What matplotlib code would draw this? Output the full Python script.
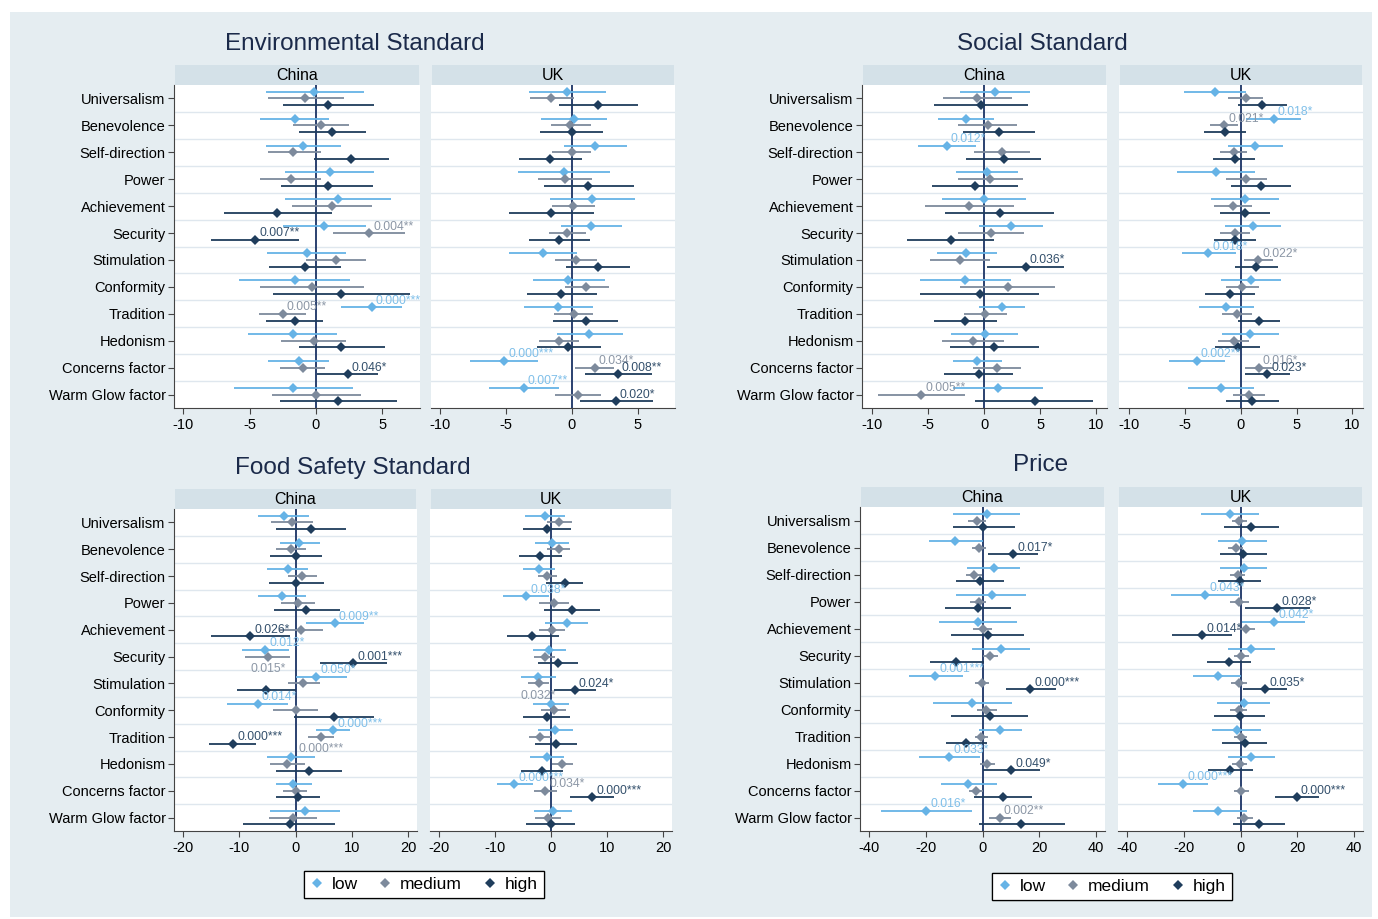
import numpy as np
import matplotlib
matplotlib.use("Agg")
import matplotlib.pyplot as plt
from matplotlib.patches import Rectangle
from matplotlib.lines import Line2D

plt.rcParams['font.family'] = ['Liberation Sans', 'DejaVu Sans']

CATEGORIES = ["Universalism", "Benevolence", "Self-direction", "Power", "Achievement",
              "Security", "Stimulation", "Conformity", "Tradition", "Hedonism",
              "Concerns factor", "Warm Glow factor"]
SERIES = ["low", "medium", "high"]
COUNTRIES = ["China", "UK"]

# (estimate, ci_low, ci_high) per category
ENV_CN_LOW = [(-0.13,-3.8,3.6),(-1.6,-4.2,1.0),(-1.0,-3.8,1.9),(1.05,-2.3,4.4),(1.7,-2.3,5.7),(0.6,-2.5,3.8),
              (-0.7,-3.7,2.3),(-1.6,-5.8,2.6),(4.2,1.9,6.5),(-1.75,-5.1,1.6),(-1.3,-3.6,1.0),(-1.7,-6.2,2.8)]
ENV_CN_MED = [(-0.8,-3.6,2.1),(0.4,-1.7,2.5),(-1.7,-3.6,0.35),(-1.9,-4.2,0.4),(1.2,-1.8,4.2),(4.0,1.3,6.7),
              (1.5,-0.75,3.8),(-0.3,-4.2,3.6),(-2.5,-4.3,-0.75),(-0.15,-2.6,2.3),(-1.0,-2.7,0.65),(0.0,-3.3,3.4)]
ENV_CN_HIGH = [(0.9,-2.5,4.4),(1.2,-1.3,3.8),(2.65,-0.15,5.5),(0.9,-2.6,4.3),(-2.9,-6.9,1.2),(-4.6,-7.9,-1.3),
               (-0.8,-3.5,1.9),(1.9,-3.2,7.1),(-1.6,-3.8,0.55),(1.9,-1.3,5.2),(2.4,0.05,4.7),(1.7,-2.7,6.1)]
ENV_UK_LOW = [(-0.33,-3.25,2.6),(0.2,-2.3,2.7),(1.8,-0.6,4.2),(-0.6,-4.1,2.9),(1.55,-1.65,4.8),(1.45,-0.8,3.8),
              (-2.2,-4.8,0.4),(-0.25,-2.95,2.55),(-1.05,-3.65,1.6),(1.3,-1.15,3.9),(-5.15,-7.7,-2.55),(-3.65,-6.3,-1.0)]
ENV_UK_MED = [(-1.55,-3.2,0.2),(-0.1,-1.6,1.45),(0.0,-1.5,1.45),(-0.5,-2.55,1.55),(0.1,-1.5,1.8),(-0.35,-1.75,1.05),
              (0.35,-1.25,1.95),(1.1,-0.55,2.8),(0.15,-1.35,1.65),(-1.0,-2.5,0.55),(1.75,0.25,3.25),(0.45,-1.25,2.2)]
ENV_UK_HIGH = [(2.0,-1.0,5.0),(0.0,-2.4,2.4),(-1.65,-4.0,0.8),(1.25,-2.1,4.7),(-1.6,-4.8,1.7),(-0.95,-3.25,1.4),
               (2.0,-0.45,4.4),(-0.8,-3.4,1.95),(1.05,-1.45,3.55),(-0.25,-2.65,2.2),(3.5,1.0,6.1),(3.35,0.6,6.15)]

SOC_CN_LOW = [(0.95,-2.2,4.1),(-1.6,-4.1,0.9),(-3.35,-5.9,-0.75),(0.25,-2.5,3.0),(0.0,-3.75,3.7),(2.4,-0.45,5.2),
              (-1.6,-4.25,1.1),(-1.7,-5.7,2.4),(1.55,-0.45,3.6),(0.05,-2.95,3.05),(-0.6,-2.75,1.55),(1.2,-2.8,5.2)]
SOC_CN_MED = [(-0.6,-3.7,2.5),(0.3,-2.3,2.9),(1.6,-0.9,4.1),(0.55,-2.35,3.5),(-1.35,-5.3,2.65),(0.6,-2.3,3.55),
              (-2.15,-4.85,0.55),(2.1,-2.15,6.3),(0.1,-1.8,2.05),(-1.0,-3.75,1.8),(1.1,-1.0,3.25),(-5.65,-9.5,-1.7)]
SOC_CN_HIGH = [(-0.3,-4.5,3.9),(1.3,-1.9,4.5),(1.75,-1.6,5.1),(-0.85,-4.7,3.05),(1.4,-3.5,6.25),(-3.0,-6.9,0.85),
               (3.7,0.25,7.15),(-0.4,-5.7,4.85),(-1.7,-4.5,1.1),(0.9,-3.05,4.9),(-0.45,-3.6,2.6),(4.5,-0.8,9.7)]
SOC_UK_LOW = [(-2.3,-5.1,0.45),(2.95,0.5,5.4),(1.3,-1.1,3.8),(-2.25,-5.75,1.3),(0.35,-2.7,3.4),(1.1,-1.4,3.6),
              (-2.9,-5.3,-0.45),(0.9,-1.75,3.65),(-1.3,-3.7,1.2),(0.85,-1.65,3.4),(-3.95,-6.4,-1.45),(-1.8,-4.7,1.2)]
SOC_UK_MED = [(0.45,-1.1,2.0),(-1.5,-2.75,-0.2),(-0.6,-1.9,0.6),(0.5,-1.35,2.35),(-0.7,-2.35,1.0),(-0.5,-1.9,0.85),
              (1.55,0.25,2.9),(0.1,-1.35,1.6),(-0.35,-1.65,1.0),(-0.6,-2.0,0.75),(1.6,0.35,2.9),(0.7,-0.7,2.2)]
SOC_UK_HIGH = [(1.95,-0.25,4.1),(-1.4,-3.3,0.45),(-0.55,-2.5,1.3),(1.8,-0.85,4.5),(0.4,-1.9,2.65),(-0.55,-2.4,1.35),
               (1.4,-0.5,3.3),(-1.0,-3.2,1.3),(1.65,-0.2,3.55),(-0.25,-2.3,1.75),(2.35,0.4,4.4),(1.05,-1.3,3.4)]

FOOD_CN_LOW = [(-2.1,-6.65,2.4),(0.7,-2.7,4.3),(-1.4,-5.0,2.25),(-2.45,-6.75,1.9),(6.95,1.8,12.2),(-5.35,-9.5,-1.2),
               (3.7,0.1,9.15),(-6.75,-12.1,-1.4),(6.65,3.7,9.75),(-0.8,-5.1,3.45),(-0.4,-3.55,2.85),(1.6,-4.6,7.85)]
FOOD_CN_MED = [(-0.6,-4.4,3.1),(-0.8,-3.45,1.8),(1.2,-1.4,3.8),(0.4,-2.5,3.45),(1.0,-2.85,4.85),(-4.9,-8.9,-1.05),
               (1.4,-1.4,4.4),(0.0,-4.0,4.0),(4.5,2.15,6.9),(-1.5,-4.6,1.65),(0.0,-2.15,2.0),(-0.45,-4.75,3.8)]
FOOD_CN_HIGH = [(2.8,-3.45,8.9),(0.05,-4.6,4.75),(0.1,-4.75,5.1),(1.95,-3.9,7.95),(-8.05,-15.1,-1.05),(10.2,4.3,16.25),
                (-5.2,-10.45,0.0),(6.8,-0.35,14.0),(-11.1,-15.3,-7.0),(2.45,-3.45,8.3),(0.45,-3.45,4.4),(-1.05,-9.25,7.1)]
FOOD_UK_LOW = [(-1.15,-4.6,2.45),(0.2,-2.9,3.3),(-2.1,-4.95,0.65),(-4.45,-8.65,-0.3),(2.8,-1.15,6.6),(-0.35,-3.25,2.7),
               (-2.3,-5.4,0.9),(0.0,-3.25,3.25),(0.75,-2.3,3.85),(-0.75,-3.75,2.3),(-6.55,-9.6,-3.25),(0.35,-3.05,3.75)]
FOOD_UK_MED = [(1.5,-0.65,3.75),(1.35,-0.65,3.4),(-0.65,-2.3,1.15),(0.55,-2.1,3.15),(0.2,-2.1,2.55),(-1.15,-3.05,0.65),
               (-2.2,-4.1,-0.3),(0.5,-1.7,2.7),(-1.95,-3.85,-0.05),(2.0,0.2,4.0),(-1.05,-3.05,1.0),(-0.55,-2.9,1.75)]
FOOD_UK_HIGH = [(-0.7,-4.95,3.65),(-1.9,-5.8,1.95),(2.5,-0.9,5.8),(3.7,-1.25,8.75),(-3.35,-7.8,1.35),(1.25,-2.3,4.8),
                (4.25,0.55,8.05),(-0.65,-4.95,3.4),(0.95,-2.8,4.6),(-1.6,-5.3,2.2),(7.3,3.4,11.25),(0.0,-4.45,4.35)]

PRICE_CN_LOW = [(1.75,-10.35,13.4),(-9.65,-19.05,0.0),(4.0,-5.4,13.4),(3.2,-9.2,15.5),(-1.65,-15.5,12.25),(6.6,-3.75,16.7),
                (-16.7,-26.1,-7.05),(-3.65,-17.65,10.6),(6.35,-1.4,14.1),(-11.75,-22.6,-0.95),(-4.95,-14.8,5.2),(-19.9,-35.75,-3.75)]
PRICE_CN_MED = [(-2.0,-5.2,1.2),(-1.2,-3.75,1.4),(-3.05,-5.9,-0.25),(-1.4,-4.25,1.4),(0.0,-3.5,3.5),(2.7,0.0,5.65),
                (-0.25,-2.6,2.35),(1.4,-2.1,4.95),(-0.45,-2.8,1.9),(1.65,-0.95,4.25),(-2.25,-4.7,0.25),(6.1,2.35,9.9)]
PRICE_CN_HIGH = [(0.35,-10.6,11.5),(10.95,2.1,19.75),(-0.95,-9.4,7.75),(-1.65,-13.2,9.9),(1.9,-11.05,14.8),(-9.2,-18.6,0.45),
                 (16.95,8.25,25.9),(2.5,-11.05,16.25),(-5.75,-12.95,1.65),(10.1,0.0,20.45),(7.2,-3.05,17.4),(13.65,-1.4,29.2)]
PRICE_UK_LOW = [(-3.8,-13.95,6.6),(0.45,-8.05,9.25),(1.2,-7.1,9.45),(-12.55,-24.4,-0.45),(11.85,0.45,22.95),(3.8,-4.5,12.05),
                (-8.05,-16.8,0.25),(1.2,-8.3,10.4),(-1.4,-9.95,7.1),(3.65,-4.5,12.05),(-20.35,-29.1,-11.6),(-7.8,-16.8,2.15)]
PRICE_UK_MED = [(-0.45,-3.1,2.35),(-1.65,-4.25,0.95),(-0.95,-3.55,1.65),(-0.45,-3.8,2.85),(1.9,-1.2,4.95),(0.25,-2.35,2.85),
                (-0.6,-3.3,2.15),(-0.7,-3.55,2.15),(0.0,-2.35,2.35),(-0.25,-2.85,2.35),(0.25,-2.35,3.1),(1.4,-1.4,4.25)]
PRICE_UK_HIGH = [(3.8,-5.7,13.5),(0.95,-7.35,9.25),(-0.25,-7.8,7.35),(13.0,1.65,24.6),(-13.5,-24.15,-2.85),(-4.0,-11.85,3.8),
                 (8.75,0.95,16.55),(-0.25,-9.25,8.5),(1.55,-6.6,9.45),(-3.55,-11.35,4.25),(19.9,12.3,27.7),(6.65,-2.6,15.85)]

# p-value labels: (country, series, category index, text, position)
ENV_LABELS = [("China","medium",5,"0.004**","ur"),("China","high",5,"0.007**","ur"),("China","low",8,"0.000***","ur"),
              ("China","medium",8,"0.005**","ur"),("China","high",10,"0.046*","ur"),
              ("UK","low",10,"0.000***","ur"),("UK","medium",10,"0.034*","ur"),("UK","high",10,"0.008**","ur"),
              ("UK","low",11,"0.007**","ur"),("UK","high",11,"0.020*","ur")]
SOC_LABELS = [("China","low",2,"0.012*","ur"),("China","high",6,"0.036*","ur"),("China","medium",11,"0.005**","ur"),
              ("UK","low",1,"0.018*","ur"),("UK","medium",1,"0.021*","ur"),("UK","low",6,"0.018*","ur"),
              ("UK","medium",6,"0.022*","ur"),("UK","low",10,"0.002**","ur"),("UK","medium",10,"0.016*","ur"),
              ("UK","high",10,"0.023*","ur")]
FOOD_LABELS = [("China","low",4,"0.009**","ur"),("China","high",4,"0.026*","ur"),("China","low",5,"0.012*","ur"),
               ("China","medium",5,"0.015*","b"),("China","high",5,"0.001***","ur"),("China","low",6,"0.050*","ur"),
               ("China","low",7,"0.014*","ur"),("China","low",8,"0.000***","ur"),("China","medium",8,"0.000***","b"),
               ("China","high",8,"0.000***","ur"),
               ("UK","low",3,"0.038*","ur"),("UK","medium",6,"0.032*","b"),("UK","high",6,"0.024*","ur"),
               ("UK","low",10,"0.000***","ur"),("UK","medium",10,"0.034*","ur"),("UK","high",10,"0.000***","ur")]
PRICE_LABELS = [("China","high",1,"0.017*","ur"),("China","low",6,"0.001***","ur"),("China","high",6,"0.000***","ur"),
                ("China","low",9,"0.033*","ur"),("China","high",9,"0.049*","ur"),("China","low",11,"0.016*","ur"),
                ("China","medium",11,"0.002**","ur"),
                ("UK","low",3,"0.043*","ur"),("UK","high",3,"0.028*","ur"),("UK","low",4,"0.042*","ur"),
                ("UK","high",4,"0.014*","ur"),("UK","high",6,"0.035*","ur"),("UK","low",10,"0.000***","ur"),
                ("UK","high",10,"0.000***","ur")]

TITLES = ["Environmental Standard", "Social Standard", "Food Safety Standard", "Price"]
ENV_TICKS = [-10, -5, 0, 5]
SOC_TICKS = [-10, -5, 0, 5, 10]
FOOD_TICKS = [-20, -10, 0, 10, 20]
PRICE_TICKS = [-40, -20, 0, 20, 40]

COLORS = {"low": "#66b3e6", "medium": "#7d8a9c", "high": "#1f3d5c"}
LABEL_COLORS = {"low": "#7fbfe9", "medium": "#8c97a6", "high": "#34506c"}
OFFSETS = {"low": -0.25, "medium": 0.0, "high": 0.25}
BG = "#e5edf1"
STRIP = "#d4e1e8"
GRID = "#dfe7ee"
ZERO = "#2b4170"
TITLE_C = "#1b2a4a"

W, H = 1378, 919
fig = plt.figure(figsize=(W / 100, H / 100), dpi=100)
fig.patch.set_facecolor("white")
fig.patches.append(Rectangle((10 / W, 1 - 917 / H), (1372 - 10) / W, (917 - 12) / H,
                             transform=fig.transFigure, facecolor=BG, edgecolor="none", zorder=-10))


def rect(x0, x1, y0, y1):
    return [x0 / W, 1 - y1 / H, (x1 - x0) / W, (y1 - y0) / H]


panels = [
    dict(title=TITLES[0], data={"China": [ENV_CN_LOW, ENV_CN_MED, ENV_CN_HIGH], "UK": [ENV_UK_LOW, ENV_UK_MED, ENV_UK_HIGH]},
         labels=ENV_LABELS, xlim=(-10.7, 7.85), ticks=ENV_TICKS,
         xs={"China": (174, 420), "UK": (431, 675)}, y=(85, 408), strip=(65, 85), tpos=(355, 44)),
    dict(title=TITLES[1], data={"China": [SOC_CN_LOW, SOC_CN_MED, SOC_CN_HIGH], "UK": [SOC_UK_LOW, SOC_UK_MED, SOC_UK_HIGH]},
         labels=SOC_LABELS, xlim=(-10.9, 10.95), ticks=SOC_TICKS,
         xs={"China": (862, 1107), "UK": (1119, 1363)}, y=(85, 408), strip=(65, 85), tpos=(1042, 44)),
    dict(title=TITLES[2], data={"China": [FOOD_CN_LOW, FOOD_CN_MED, FOOD_CN_HIGH], "UK": [FOOD_UK_LOW, FOOD_UK_MED, FOOD_UK_HIGH]},
         labels=FOOD_LABELS, xlim=(-21.6, 21.6), ticks=FOOD_TICKS,
         xs={"China": (174, 417), "UK": (430, 672)}, y=(509, 831), strip=(489, 509), tpos=(353, 468)),
    dict(title=TITLES[3], data={"China": [PRICE_CN_LOW, PRICE_CN_MED, PRICE_CN_HIGH], "UK": [PRICE_UK_LOW, PRICE_UK_MED, PRICE_UK_HIGH]},
         labels=PRICE_LABELS, xlim=(-43.3, 43.3), ticks=PRICE_TICKS,
         xs={"China": (860, 1105), "UK": (1118, 1363)}, y=(507, 831), strip=(487, 507), tpos=(1041, 465)),
]

ypos = np.arange(len(CATEGORIES))

for p in panels:
    fig.text(p["tpos"][0] / W, 1 - p["tpos"][1] / H, p["title"], fontsize=17.5, color=TITLE_C,
             ha="center", va="center")
    for country in COUNTRIES:
        x0, x1 = p["xs"][country]
        ax = fig.add_axes(rect(x0, x1, p["y"][0], p["y"][1]))
        ax.set_facecolor("white")
        for k in range(len(CATEGORIES) - 1):
            ax.axhline(k + 0.5, color=GRID, lw=1.0, zorder=0)
        ax.axvline(0, color=ZERO, lw=1.4, zorder=1)
        for sname, sdata in zip(SERIES, p["data"][country]):
            arr = np.array(sdata)
            yy = ypos + OFFSETS[sname]
            ax.hlines(yy, arr[:, 1], arr[:, 2], color=COLORS[sname], lw=1.3, zorder=2)
            ax.plot(arr[:, 0], yy, "D", color=COLORS[sname], ms=5.4, mew=0, zorder=3)
        for (c, sname, idx, txt, pos) in p["labels"]:
            if c != country:
                continue
            sdata = p["data"][country][SERIES.index(sname)]
            xv = sdata[idx][0]
            yv = idx + OFFSETS[sname]
            if pos == "b":
                ax.annotate(txt, (xv, yv), xytext=(0, -4.5), textcoords="offset points",
                            ha="center", va="top", fontsize=8.8, color=LABEL_COLORS[sname], zorder=4)
            else:
                ax.annotate(txt, (xv, yv), xytext=(3, 0.3), textcoords="offset points",
                            ha="left", va="bottom", fontsize=8.8, color=LABEL_COLORS[sname], zorder=4)
        ax.set_xlim(*p["xlim"])
        ax.set_ylim(len(CATEGORIES) - 0.5, -0.5)
        ax.set_xticks(p["ticks"])
        ax.set_xticklabels([str(t) for t in p["ticks"]])
        ax.tick_params(axis="x", length=4, width=0.8, color="#444444", labelsize=10.5, pad=3)
        ax.spines["top"].set_visible(False)
        ax.spines["right"].set_visible(False)
        ax.spines["bottom"].set_color("#444444")
        ax.spines["bottom"].set_linewidth(0.8)
        ax.set_yticks(ypos)
        if country == "China":
            ax.set_yticklabels(CATEGORIES)
            ax.tick_params(axis="y", length=4, width=0.8, color="#444444", labelsize=10.5, pad=2)
            ax.spines["left"].set_color("#444444")
            ax.spines["left"].set_linewidth(0.8)
        else:
            ax.spines["left"].set_visible(False)
            ax.tick_params(axis="y", left=False, labelleft=False)
        sax = fig.add_axes(rect(x0 + 1, x1 - 1, p["strip"][0], p["strip"][1]))
        sax.set_facecolor(STRIP)
        sax.set_xticks([])
        sax.set_yticks([])
        for sp in sax.spines.values():
            sp.set_visible(False)
        sax.text(0.5, 0.45, country, ha="center", va="center", fontsize=11.5, color="black",
                 transform=sax.transAxes)

handles = [Line2D([], [], marker="D", ls="none", color=COLORS[s], ms=4.6, mew=0) for s in SERIES]
for cx, cy in [(424, 884.5), (1112, 886.5)]:
    leg = fig.legend(handles, SERIES, loc="center", bbox_to_anchor=(cx / W, 1 - cy / H), ncol=3,
                     frameon=True, fancybox=False, framealpha=1, edgecolor="black", fontsize=12.5,
                     handlelength=0.7, handletextpad=0.5, columnspacing=1.25, borderpad=0.35,
                     borderaxespad=0)
    leg.get_frame().set_linewidth(0.9)
    fig.add_artist(leg)

fig.savefig("out.png", dpi=100, facecolor=fig.get_facecolor())
